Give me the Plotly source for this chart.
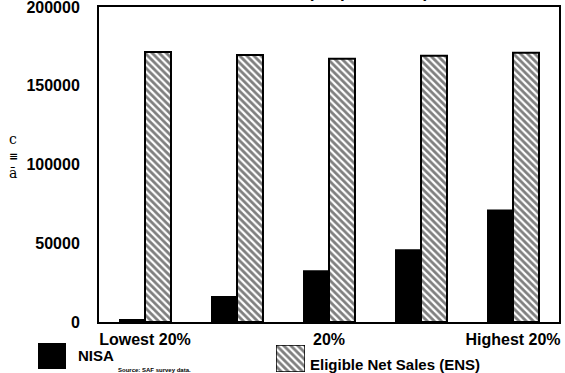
import plotly.graph_objects as go

W, H = 565, 373

# Producer quintiles and the dollar values per group
categories = ["Lowest 20%", "Second 20%", "Middle 20%", "Fourth 20%", "Highest 20%"]
tick_labels = ["Lowest 20%", "", "20%", "", "Highest 20%"]
nisa = [1900, 16500, 32900, 46200, 71500]
ens = [171500, 169600, 167100, 169000, 170900]
y_ticks = [0, 50000, 100000, 150000, 200000]

FONT = "Liberation Sans, Arial, Helvetica, sans-serif"
bold = dict(family=FONT, size=16, color="black", weight="bold")


def px_x(x):
    return x / W


def px_y(y):
    return 1 - y / H


hatch = dict(shape="\\", fgcolor="black", bgcolor="white", size=5, solidity=0.55)

fig = go.Figure()
fig.add_trace(go.Bar(x=categories, y=nisa, name="NISA",
                     marker=dict(color="black", line=dict(width=0))))
fig.add_trace(go.Bar(x=categories, y=ens, name="Eligible Net Sales (ENS)",
                     marker=dict(color="white", pattern=hatch,
                                 line=dict(color="black", width=2))))

# Legend swatches, each drawn as a bar filling its own small axes
fig.add_trace(go.Bar(x=[0], y=[1], width=[1], xaxis="x2", yaxis="y2",
                     marker=dict(color="black", line=dict(width=0)),
                     showlegend=False, hoverinfo="skip"))
fig.add_trace(go.Bar(x=[0], y=[1], width=[1], xaxis="x3", yaxis="y3",
                     marker=dict(color="white", pattern=hatch,
                                 line=dict(color="black", width=1.5)),
                     showlegend=False, hoverinfo="skip"))

hidden = dict(visible=False, fixedrange=True, automargin=False)

fig.update_layout(
    width=W, height=H, autosize=False,
    margin=dict(l=0, r=0, t=0, b=0, pad=0),
    paper_bgcolor="white", plot_bgcolor="white",
    showlegend=False,
    barmode="group", bargap=0.435, bargroupgap=0,
    xaxis=dict(domain=[px_x(99), px_x(559)], type="category",
               categoryorder="array", categoryarray=categories,
               tickvals=categories, ticktext=tick_labels,
               tickfont=bold, ticks="", ticklabelstandoff=2,
               automargin=False, showgrid=False, zeroline=False,
               showline=True, linecolor="black", linewidth=2, mirror=True),
    yaxis=dict(domain=[px_y(322), px_y(7)], range=[0, 200000],
               tickvals=y_ticks, tickformat="d", tickfont=bold,
               ticks="", ticklabelstandoff=14, ticklabeloverflow="allow",
               automargin=False, showgrid=False, zeroline=False,
               showline=True, linecolor="black", linewidth=2, mirror=True),
    xaxis2=dict(domain=[px_x(38), px_x(66)], range=[-0.5, 0.5], anchor="y2", **hidden),
    yaxis2=dict(domain=[px_y(369), px_y(343)], range=[0, 1], anchor="x2", **hidden),
    xaxis3=dict(domain=[px_x(276), px_x(305)], range=[-0.5, 0.5], anchor="y3", **hidden),
    yaxis3=dict(domain=[px_y(372), px_y(345)], range=[0, 1], anchor="x3", **hidden),
)

annotations = [
    # Legend labels
    dict(text="NISA", x=px_x(76), y=px_y(355), xanchor="left", yanchor="middle",
         font=dict(bold, size=15)),
    dict(text="Eligible Net Sales (ENS)", x=px_x(308), y=px_y(364),
         xanchor="left", yanchor="middle", font=dict(bold, size=15)),
    dict(text="Source: SAF survey data.", x=px_x(116), y=px_y(370),
         xanchor="left", yanchor="middle", font=dict(bold, size=6)),
    # Title, running off the top edge
    dict(text="(All producers)", x=px_x(368), y=px_y(4), xanchor="center",
         yanchor="bottom", font=dict(bold, size=17)),
    # Vertical axis caption
    dict(text="c", x=px_x(13), y=px_y(139), xanchor="center", yanchor="middle",
         font=dict(family="DejaVu Serif, serif", size=14, color="black")),
    dict(text="≡", x=px_x(13), y=px_y(156), xanchor="center", yanchor="middle",
         font=dict(family="DejaVu Sans, sans-serif", size=11, color="black",
                   weight="bold")),
    dict(text="ā", x=px_x(13), y=px_y(173), xanchor="center", yanchor="middle",
         font=dict(family="DejaVu Serif, serif", size=14, color="black")),
]
for a in annotations:
    a.update(xref="paper", yref="paper", showarrow=False)
fig.update_layout(annotations=annotations)

fig.write_html("out.html")
